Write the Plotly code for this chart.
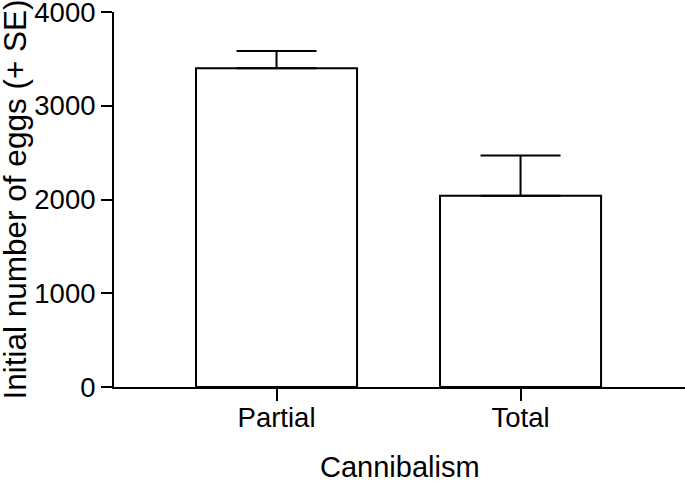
import plotly.graph_objects as go

categories = ["Partial", "Total"]
eggs_mean = [3400, 2040]
eggs_se = [185, 430]
y_ticks = [0, 1000, 2000, 3000, 4000]

FONT = "Liberation Sans, Arial, sans-serif"

fig = go.Figure()
fig.add_trace(go.Bar(
    x=list(range(len(categories))),
    y=eggs_mean,
    width=0.66,
    marker=dict(color="white", line=dict(color="black", width=2)),
    error_y=dict(type="data", symmetric=False, array=eggs_se,
                 arrayminus=[0] * len(eggs_se), color="black",
                 thickness=2, width=40),
    showlegend=False,
))

fig.update_layout(
    width=685, height=482,
    margin=dict(l=114, r=0, t=12, b=95, autoexpand=False),
    plot_bgcolor="white", paper_bgcolor="white",
    font=dict(family=FONT, color="black", size=27),
    xaxis=dict(
        range=[-0.666, 1.674],
        tickvals=list(range(len(categories))), ticktext=categories,
        ticks="outside", ticklen=12, tickwidth=2, tickcolor="black",
        showline=True, linewidth=2, linecolor="black",
        showgrid=False, zeroline=False, automargin=False,
        tickfont=dict(size=27.5), ticklabeloverflow="allow",
        ticklabelstandoff=-7,
    ),
    yaxis=dict(
        range=[0, 4000],
        tickvals=y_ticks,
        ticks="outside", ticklen=11, tickwidth=2, tickcolor="black",
        showline=True, linewidth=2, linecolor="black",
        showgrid=False, zeroline=False, automargin=False,
        tickfont=dict(size=27.5), ticklabeloverflow="allow",
    ),
    annotations=[
        dict(text="Initial number of eggs (+ SE)", textangle=-90,
             xref="paper", yref="paper", x=0, y=0.5,
             xanchor="center", yanchor="middle", xshift=-100,
             showarrow=False, font=dict(size=31.5)),
        dict(text="Cannibalism",
             xref="paper", yref="paper", x=0.5, y=0,
             xanchor="center", yanchor="middle", yshift=-80,
             showarrow=False, font=dict(size=29)),
    ],
)

# remove the browser's default 8px body margin so the figure fills the window
fig.write_html("out.html",
               config={"displayModeBar": False},
               post_script="document.body.style.margin='0';document.body.style.overflow='hidden';")
